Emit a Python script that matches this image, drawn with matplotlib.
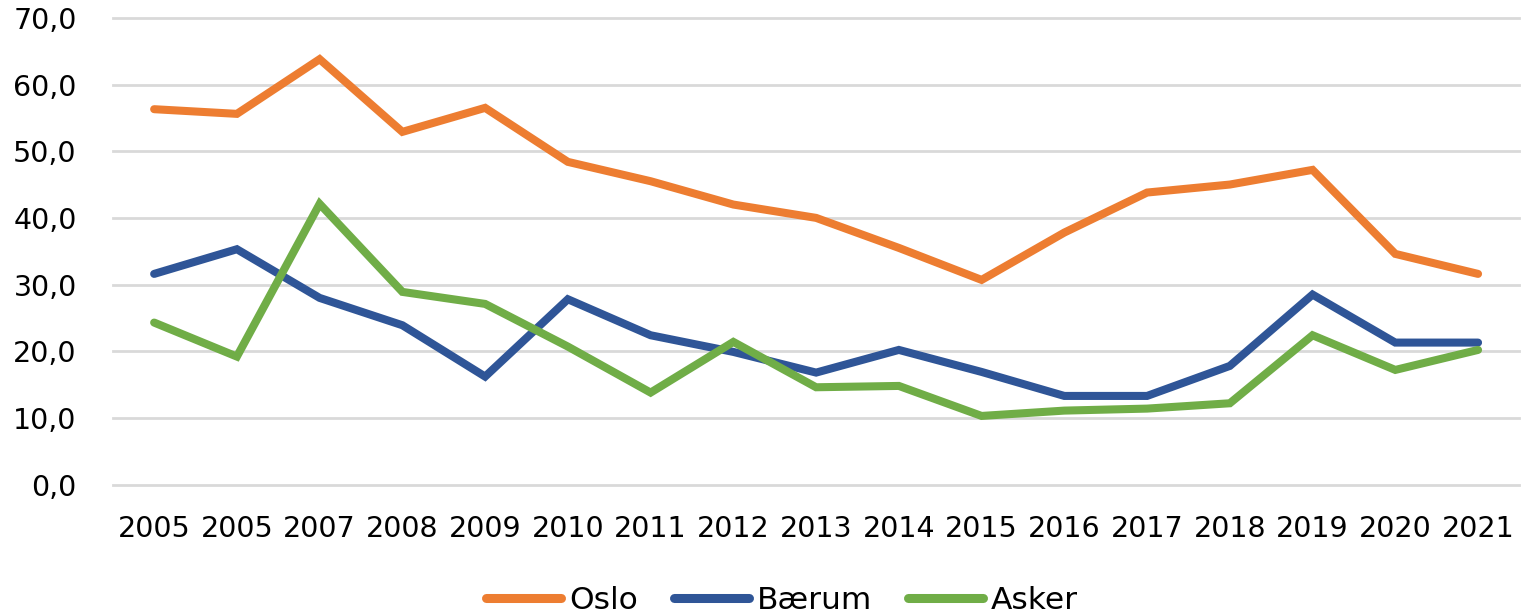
import matplotlib
matplotlib.use("Agg")
import matplotlib.pyplot as plt

years = ["2005", "2005", "2007", "2008", "2009", "2010", "2011", "2012", "2013",
         "2014", "2015", "2016", "2017", "2018", "2019", "2020", "2021"]
oslo = [56.3, 55.6, 63.8, 52.9, 56.5, 48.4, 45.5, 42.0, 40.0, 35.5, 30.7, 37.8,
        43.8, 45.0, 47.2, 34.6, 31.6]
baerum = [31.6, 35.3, 28.0, 23.9, 16.2, 27.8, 22.4, 19.9, 16.8, 20.2, 16.9, 13.3,
          13.3, 17.8, 28.5, 21.3, 21.3]
asker = [24.3, 19.2, 42.1, 28.9, 27.1, 20.7, 13.8, 21.4, 14.6, 14.8, 10.3, 11.1,
         11.4, 12.2, 22.4, 17.2, 20.2]
yticks = [0, 10, 20, 30, 40, 50, 60, 70]

fig = plt.figure(figsize=(15.24, 6.15), dpi=100)
ax = fig.add_axes([0.074, 0.212, 0.923, 0.759])

x = list(range(len(years)))
lw = 5.8
ax.plot(x, oslo, color="#ED7D31", lw=lw, label="Oslo", solid_capstyle="round", solid_joinstyle="miter")
ax.plot(x, baerum, color="#2F5597", lw=lw, label="Bærum", solid_capstyle="round", solid_joinstyle="miter")
ax.plot(x, asker, color="#70AD47", lw=lw, label="Asker", solid_capstyle="round", solid_joinstyle="miter")

ax.set_xlim(-0.5, len(years) - 0.5)
ax.set_ylim(0, 70)
ax.set_yticks(yticks)
ax.set_yticklabels([f"{v:.1f}".replace(".", ",") for v in yticks])
ax.set_xticks(x)
ax.set_xticklabels(years)
ax.tick_params(axis="both", length=0, labelsize=20.5, colors="black")
ax.tick_params(axis="y", pad=26)
ax.tick_params(axis="x", pad=22)
ax.grid(axis="y", color="#D9D9D9", lw=2)
for gl in ax.get_ygridlines():
    gl.set_clip_on(False)
ax.set_axisbelow(True)
for s in ax.spines.values():
    s.set_visible(False)

leg = fig.legend(loc="center", bbox_to_anchor=(0.513, 0.024), ncol=3, frameon=False,
                 fontsize=22.5, handlelength=2.4, handletextpad=0.25, columnspacing=1.15)
for h in leg.get_lines():
    h.set_linewidth(6.5)

fig.savefig("out.png", dpi=100)
